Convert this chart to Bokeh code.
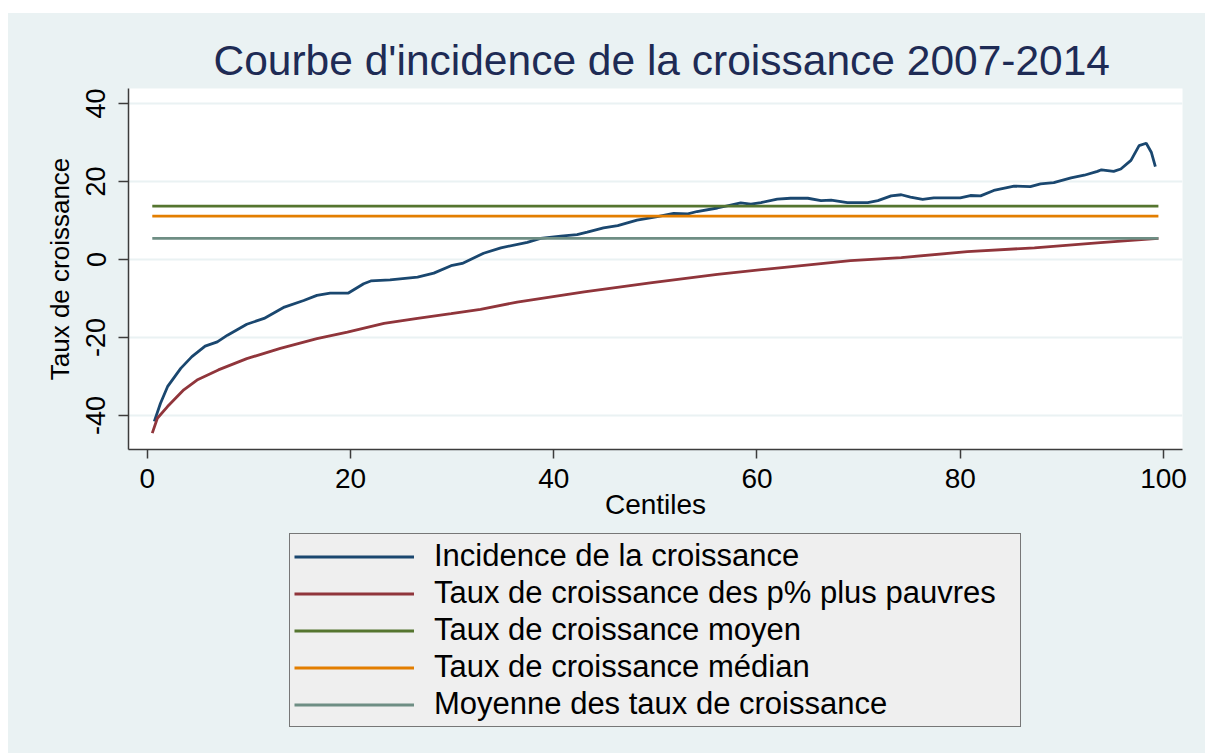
from bokeh.plotting import figure
from bokeh.models import Legend, LegendItem, Range1d, FixedTicker, Spacer, PrintfTickFormatter
from bokeh.layouts import column, row
from bokeh.embed import file_html
from bokeh.resources import INLINE

# ---- data ----
centiles_incidence = [0.7, 1.3, 2.0, 3.3, 4.4, 5.7, 6.9, 7.9, 9.8, 11.5, 13.5, 15.4, 16.7, 18.0,
                      19.8, 21.3, 22.0, 23.9, 26.6, 28.2, 29.9, 31.0, 33.1, 34.8, 37.4, 38.7,
                      40.7, 42.3, 43.3, 44.9, 46.3, 48.2, 50.2, 51.8, 53.2, 54.1, 56.1, 58.4,
                      59.4, 60.4, 62.0, 63.3, 65.0, 66.3, 67.3, 68.9, 70.9, 71.9, 73.2, 74.2,
                      75.1, 76.3, 77.4, 80.0, 81.0, 82.0, 83.3, 85.3, 86.9, 87.9, 89.2, 90.9,
                      92.2, 93.5, 93.9, 95.1, 95.8, 96.8, 97.6, 98.3, 98.8, 99.2]
incidence = [-41.5, -36.9, -32.6, -27.9, -24.9, -22.2, -21.1, -19.4, -16.6, -15.1, -12.2, -10.5,
             -9.2, -8.6, -8.6, -6.2, -5.5, -5.2, -4.5, -3.5, -1.6, -1.0, 1.6, 3.0, 4.4, 5.4,
             6.0, 6.4, 7.0, 8.1, 8.7, 10.1, 11.0, 11.8, 11.7, 12.3, 13.2, 14.5, 14.2, 14.6,
             15.5, 15.7, 15.7, 15.1, 15.2, 14.6, 14.6, 15.1, 16.3, 16.6, 16.0, 15.4, 15.8,
             15.8, 16.4, 16.3, 17.7, 18.8, 18.7, 19.4, 19.7, 20.9, 21.6, 22.6, 23.0, 22.6,
             23.2, 25.4, 29.2, 29.8, 27.5, 23.8]

centiles_poor = [0.5, 1.0, 2.0, 3.6, 4.9, 7.0, 9.8, 13.1, 16.7, 19.7, 23.3, 26.6, 29.9, 32.8,
                 36.4, 43.0, 49.5, 56.1, 62.7, 69.2, 74.2, 80.7, 87.3, 93.8, 99.5]
poorest_growth = [-44.5, -40.7, -37.7, -33.4, -30.9, -28.3, -25.4, -22.8, -20.3, -18.6, -16.4,
                  -15.1, -13.9, -12.8, -10.9, -8.3, -6.0, -3.8, -2.0, -0.3, 0.5, 2.0, 3.0,
                  4.3, 5.4]

hline_span = [0.5, 99.5]
mean_growth = 13.7
median_growth = 11.1
mean_of_rates = 5.4

labels = ["Incidence de la croissance",
          "Taux de croissance des p% plus pauvres",
          "Taux de croissance moyen",
          "Taux de croissance médian",
          "Moyenne des taux de croissance"]
x_ticks = [0, 20, 40, 60, 80, 100]
y_ticks = [-40, -20, 0, 20, 40]

colors = ["#1A476F", "#90353B", "#55752F", "#E37E00", "#6E8E84"]
FONT = "Liberation Sans"
BG = "#EAF2F3"
LW = 2.8


def add_series(fig, visible=True):
    rs = [
        fig.line(centiles_incidence, incidence, line_color=colors[0], line_width=LW),
        fig.line(centiles_poor, poorest_growth, line_color=colors[1], line_width=LW),
        fig.line(hline_span, [mean_growth] * 2, line_color=colors[2], line_width=LW),
        fig.line(hline_span, [median_growth] * 2, line_color=colors[3], line_width=LW),
        fig.line(hline_span, [mean_of_rates] * 2, line_color=colors[4], line_width=LW),
    ]
    for r in rs:
        r.visible = visible
    return rs


# ---------------- main chart ----------------
p = figure(width=1197, height=518,
           x_range=Range1d(-1.84, 101.87), y_range=Range1d(-48.7, 43.83),
           output_backend="svg", toolbar_location=None,
           min_border_left=120, min_border_right=23,
           min_border_top=75, min_border_bottom=82)
p.border_fill_color = BG
p.background_fill_color = "white"
p.outline_line_color = None

p.title.text = "Courbe d'incidence de la croissance 2007-2014"
p.title.text_font = FONT
p.title.text_font_size = "42.5px"
p.title.text_font_style = "normal"
p.title.text_color = "#1E2B55"
p.title.align = "left"
p.title.offset = 85

add_series(p)

p.xaxis.ticker = FixedTicker(ticks=x_ticks)
p.yaxis.ticker = FixedTicker(ticks=y_ticks)
p.yaxis.formatter = PrintfTickFormatter(format="%d")
for ax in (p.xaxis[0], p.yaxis[0]):
    ax.axis_line_color = "#3C3C3C"
    ax.axis_line_width = 1.5
    ax.major_tick_line_color = "#3C3C3C"
    ax.major_tick_line_width = 1.5
    ax.major_tick_in = 0
    ax.minor_tick_line_color = None
    ax.major_label_text_font = FONT
    ax.major_label_text_color = "black"
    ax.axis_label_text_font = FONT
    ax.axis_label_text_font_style = "normal"
    ax.axis_label_text_color = "black"

p.xaxis.axis_label = "Centiles"
p.xaxis.major_tick_out = 9
p.xaxis.major_label_text_font_size = "28px"
p.xaxis.major_label_standoff = 10
p.xaxis.axis_label_text_font_size = "28px"
p.xaxis.axis_label_standoff = -2

p.yaxis.axis_label = "Taux de croissance"
p.yaxis.major_tick_out = 10
p.yaxis.major_label_orientation = "vertical"
p.yaxis.major_label_text_font_size = "27px"
p.yaxis.major_label_standoff = 13
p.yaxis.axis_label_text_font_size = "26px"
p.yaxis.axis_label_standoff = 9

p.xgrid.visible = False
p.ygrid.grid_line_color = BG
p.ygrid.grid_line_width = 2

# ---------------- legend area ----------------
pl = figure(width=1197, height=222, x_range=Range1d(0, 1), y_range=Range1d(0, 1),
            x_axis_type=None, y_axis_type=None,
            output_backend="svg", toolbar_location=None,
            min_border=0, min_border_left=120, min_border_right=23)
pl.border_fill_color = BG
pl.border_fill_alpha = 0
pl.background_fill_color = BG
pl.background_fill_alpha = 0
pl.outline_line_color = None
pl.xgrid.visible = False
pl.ygrid.visible = False
leg_rs = add_series(pl, visible=False)

legend = Legend(items=[LegendItem(label=labels[i], renderers=[r]) for i, r in enumerate(leg_rs)],
                location=(161, 26), orientation="vertical")
legend.label_text_font = FONT
legend.label_text_font_size = "31px"
legend.label_text_color = "black"
legend.glyph_width = 120
legend.glyph_height = 35
legend.label_height = 35
legend.label_standoff = 20
legend.label_width = 582
legend.spacing = 1
legend.padding = 4
legend.margin = 0
legend.background_fill_color = "#EFEFEF"
legend.background_fill_alpha = 1
legend.border_line_color = "black"
legend.border_line_width = 1.2
pl.add_layout(legend)

chart = column(p, pl, styles={"background-color": BG})
layout = row(Spacer(width=8), column(Spacer(height=13), chart))
open("out.html", "w").write(file_html(layout, INLINE))
